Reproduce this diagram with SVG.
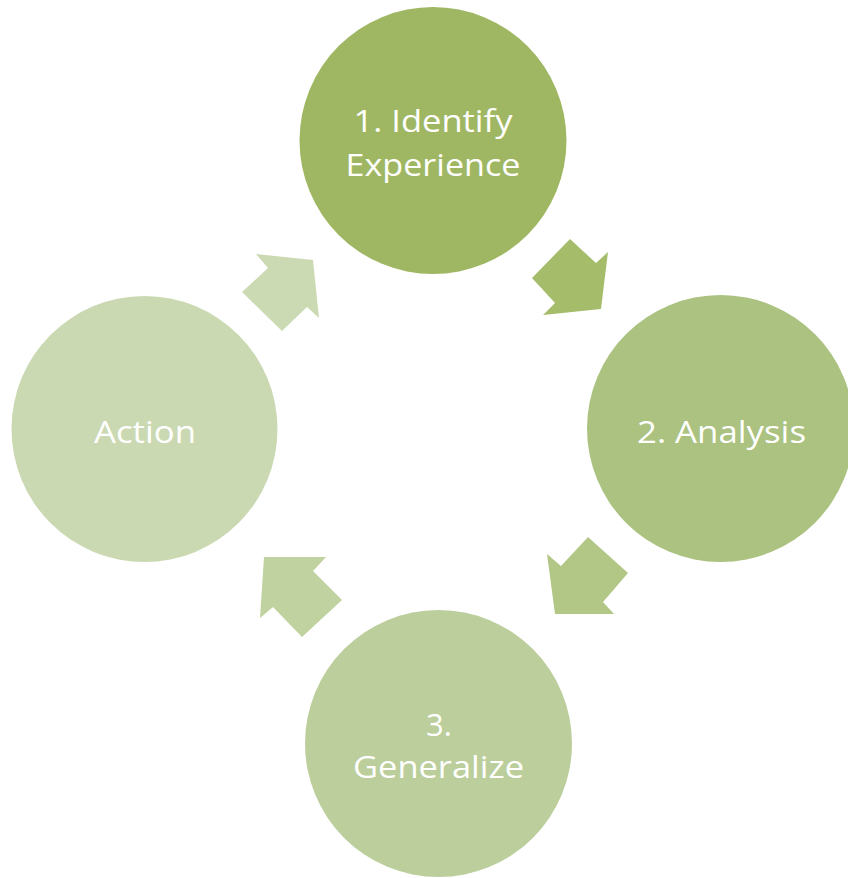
<svg xmlns="http://www.w3.org/2000/svg" width="848" height="878" viewBox="0 0 848 878">
<style>
.lbl{font-family:"Open Sans","Noto Sans","Liberation Sans",sans-serif;font-size:31px;fill:#ffffff;text-anchor:middle}
</style>
<rect width="848" height="878" fill="#ffffff"/>
<g id="connectors">
<polygon id="arrow1" fill="#A5BD6B" points="570,239 596,263 608,252 601,309 543,315 555,303 532,278"/>
<polygon id="arrow2" fill="#B2C785" points="588,537 628,573 603,602 614,614 555,614 547,554 561,566"/>
<polygon id="arrow3" fill="#C0D29F" points="264,557 326,557 313,571 342,600 302,637 273,607 260,618"/>
<polygon id="arrow4" fill="#CCDAB4" points="256,254 313,260 319,318 307,307 282,331 242,292 268,268"/>
</g>
<g id="node1">
<circle cx="433" cy="140.5" r="133.5" fill="#9FB762"/>
<text class="lbl" x="433" y="132" textLength="159" lengthAdjust="spacingAndGlyphs">1. Identify</text>
<text class="lbl" x="433" y="176" textLength="175" lengthAdjust="spacingAndGlyphs">Experience</text>
</g>
<g id="node2">
<circle cx="720.5" cy="428.5" r="133.5" fill="#ABC280"/>
<text class="lbl" x="721.5" y="443" textLength="169" lengthAdjust="spacingAndGlyphs">2. Analysis</text>
</g>
<g id="node3">
<circle cx="438.5" cy="743.5" r="133.5" fill="#BBCE9B"/>
<text class="lbl" x="439" y="736">3.</text>
<text class="lbl" x="438.5" y="778" textLength="171" lengthAdjust="spacingAndGlyphs">Generalize</text>
</g>
<g id="node4">
<circle cx="144.5" cy="429" r="133" fill="#CBD9B3"/>
<text class="lbl" x="145" y="443" textLength="102" lengthAdjust="spacingAndGlyphs">Action</text>
</g>
</svg>
